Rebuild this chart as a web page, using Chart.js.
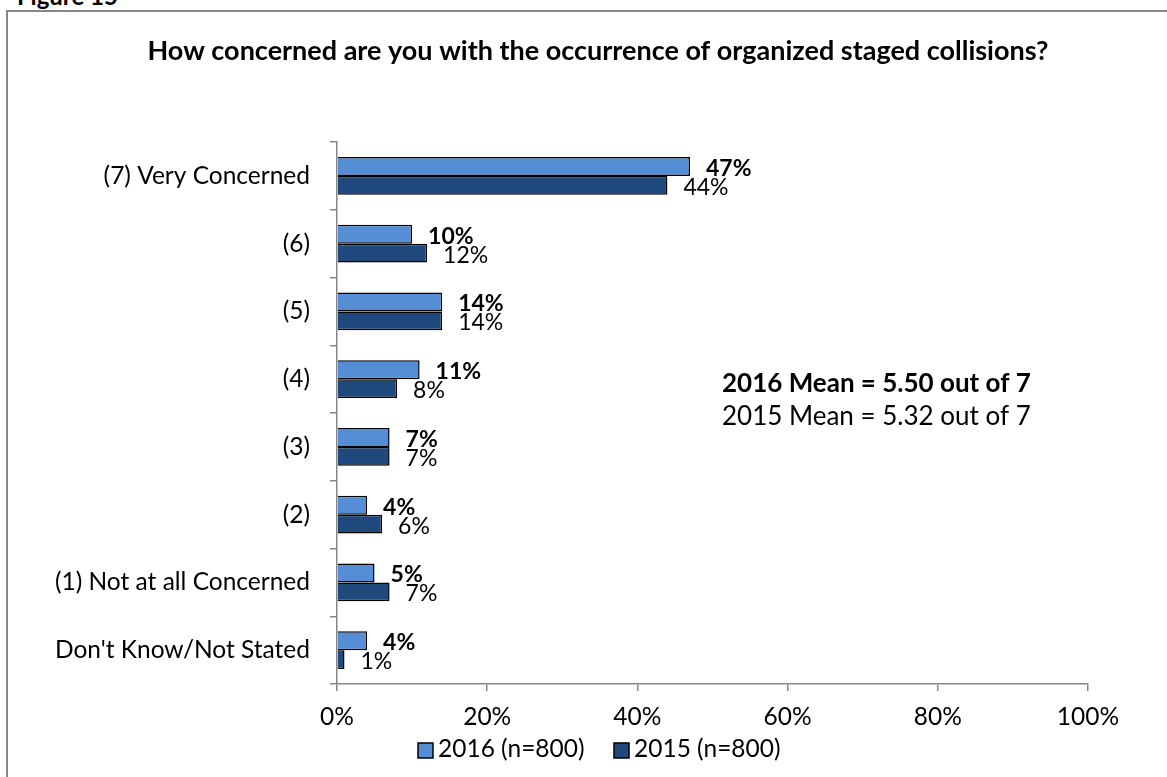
<!DOCTYPE html>
<html>
<head>
<meta charset="utf-8">
<script src="https://cdn.jsdelivr.net/npm/chart.js@4.4.1/dist/chart.umd.min.js"></script>
<style>
  body { margin: 0; background: #fff; }
  #wrap { position: relative; width: 1167px; height: 777px; overflow: hidden; }
  #frame { position: absolute; left: 6px; top: 10px; right: -10px; bottom: -10px;
           border-left: 2px solid #878787; border-top: 2px solid #878787; }
  #fig { position: absolute; left: 17px; top: -16px; font: bold 24px Lato, sans-serif; line-height: 24px; color: #000; }
  canvas { position: absolute; left: 0; top: 0; }
</style>
</head>
<body>
<div id="wrap">
  <div id="fig">Figure 15</div>
  <div id="frame"></div>
  <canvas id="chart" width="1167" height="777"></canvas>
</div>
<script>
const categories = [
  '(7) Very Concerned', '(6)', '(5)', '(4)', '(3)', '(2)',
  '(1) Not at all Concerned', "Don't Know/Not Stated"
];
const seriesNames = ['2016 (n=800)', '2015 (n=800)'];
const values2016 = [47, 10, 14, 11, 7, 4, 5, 4];
const values2015 = [44, 12, 14, 8, 7, 6, 7, 1];
const xTicks = [0, 20, 40, 60, 80, 100];
const titleText = 'How concerned are you with the occurrence of organized staged collisions?';
const meanLines = ['2016 Mean = 5.50 out of 7', '2015 Mean = 5.32 out of 7'];

const FONT = 'Lato, sans-serif';
const axisGray = '#868686';

// value labels next to each bar
const barLabels = {
  id: 'barLabels',
  afterDatasetsDraw(chart) {
    const ctx = chart.ctx;
    ctx.save();
    ctx.fillStyle = '#000';
    ctx.textBaseline = 'middle';
    ctx.textAlign = 'left';
    chart.data.datasets.forEach((ds, i) => {
      ctx.font = (i === 0 ? 'bold ' : '') + '23px ' + FONT;
      chart.getDatasetMeta(i).data.forEach((bar, j) => {
        ctx.fillText(ds.data[j] + '%', bar.x + 16, bar.y + 2);
      });
    });
    ctx.restore();
  }
};

// title, mean annotation and legend (centred on the whole figure, like the original)
const extras = {
  id: 'extras',
  afterDraw(chart) {
    const ctx = chart.ctx;
    const a = chart.chartArea;
    ctx.save();
    ctx.fillStyle = '#000';
    ctx.textBaseline = 'middle';

    ctx.textAlign = 'center';
    ctx.font = 'bold 27px ' + FONT;
    ctx.fillText(titleText, 598, 51);

    ctx.textAlign = 'left';
    ctx.font = 'bold 26px ' + FONT;
    ctx.fillText(meanLines[0], a.left + 385, 384);
    ctx.font = '26px ' + FONT;
    ctx.fillText(meanLines[1], a.left + 385, 417);

    ctx.font = '24.5px ' + FONT;
    let x = 418;
    chart.data.datasets.forEach(ds => {
      ctx.fillStyle = ds.backgroundColor;
      ctx.fillRect(x, 743, 15, 15);
      ctx.strokeStyle = '#000';
      ctx.lineWidth = 1.5;
      ctx.strokeRect(x, 743, 15, 15);
      ctx.fillStyle = '#000';
      ctx.fillText(ds.label, x + 20, 749);
      x += 196;
    });
    ctx.restore();
  }
};

new Chart(document.getElementById('chart'), {
  type: 'bar',
  data: {
    labels: categories,
    datasets: [
      { label: seriesNames[0], data: values2016, backgroundColor: '#558ED5',
        borderColor: '#000', borderWidth: 1.5, categoryPercentage: 0.56, barPercentage: 1 },
      { label: seriesNames[1], data: values2015, backgroundColor: '#1F497D',
        borderColor: '#000', borderWidth: 1.5, categoryPercentage: 0.56, barPercentage: 1 }
    ]
  },
  options: {
    indexAxis: 'y',
    responsive: false,
    animation: false,
    layout: { padding: { left: 10, right: 79, top: 142, bottom: 34.6 } },
    plugins: {
      title: { display: false },
      legend: { display: false },
      tooltip: { enabled: false }
    },
    scales: {
      x: {
        min: 0, max: 100,
        afterBuildTicks(scale) { scale.ticks = xTicks.map(v => ({ value: v })); },
        ticks: { color: '#000', font: { family: FONT, size: 24.5 }, padding: 11, maxRotation: 0, callback: v => v + '%' },
        grid: { drawOnChartArea: false, tickLength: 7, color: axisGray, lineWidth: 1.5 },
        border: { color: axisGray, width: 1.5 }
      },
      y: {
        afterFit(scale) { scale.width = 327; },
        ticks: { color: '#000', font: { family: FONT, size: 24.5 }, padding: 20 },
        grid: { offset: true, drawOnChartArea: false, tickLength: 7, color: axisGray, lineWidth: 1.5 },
        border: { color: axisGray, width: 1.5 }
      }
    }
  },
  plugins: [barLabels, extras]
});
</script>
</body>
</html>
